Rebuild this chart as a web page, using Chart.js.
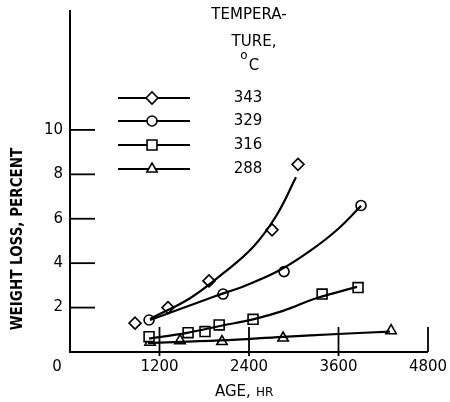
<!DOCTYPE html>
<html>
<head>
<meta charset="utf-8">
<script src="https://cdn.jsdelivr.net/npm/chart.js@4.4.1/dist/chart.umd.min.js"></script>
<style>
  html, body { margin: 0; padding: 0; background: #fff; }
  #wrap { width: 450px; height: 402px; position: relative; }
</style>
</head>
<body>
<div id="wrap"><canvas id="chart"></canvas></div>
<script>
// temperatures (deg C) in legend order
var temps = ['343', '329', '316', '288'];
var markerStyles = ['rectRot', 'circle', 'rect', 'triangle'];
var markerSizes = [6, 5, 7, 6];

var age343 = [872, 1314, 1864, 2709, 3057];
var loss343 = [1.3, 2.0, 3.2, 5.5, 8.45];
var age329 = [1060, 2052, 2870, 3902];
var loss329 = [1.44, 2.61, 3.62, 6.6];
var age316 = [1060, 1583, 1810, 2000, 2454, 3380, 3862];
var loss316 = [0.69, 0.87, 0.92, 1.22, 1.47, 2.61, 2.9];
var age288 = [1073, 1475, 2038, 2857, 4305];
var loss288 = [0.44, 0.51, 0.47, 0.63, 0.96];

// faired curves
var curveAge343 = [1073, 1609, 2056, 2458, 2772, 3030];
var curveLoss343 = [1.49, 2.42, 3.55, 4.74, 6.17, 7.87];
var curveAge329 = [1073, 1917, 2373, 2816, 3218, 3594, 3902];
var curveLoss329 = [1.44, 2.48, 3.02, 3.69, 4.55, 5.54, 6.58];
var curveAge316 = [1060, 1569, 2012, 2454, 2856, 3312, 3849];
var curveLoss316 = [0.6, 0.86, 1.17, 1.47, 1.85, 2.43, 2.93];
var curveAge288 = [1046, 2012, 2856, 3594, 4291];
var curveLoss288 = [0.4, 0.52, 0.68, 0.81, 0.92];

// axis ticks
var xTicks = [0, 1200, 2400, 3600, 4800];
var yTicks = [2, 4, 6, 8, 10];

var FONT = "'DejaVu Sans', sans-serif";

function pts(xs, ys) {
    return xs.map(function (x, i) { return { x: x, y: ys[i] }; });
}

function curve(xs, ys) {
    return {
        data: pts(xs, ys),
        showLine: true,
        borderColor: '#000',
        borderWidth: 2.2,
        pointRadius: 0,
        tension: 0.4,
        fill: false
    };
}

function markers(xs, ys, i) {
    return {
        data: pts(xs, ys),
        showLine: false,
        pointStyle: markerStyles[i],
        pointRadius: markerSizes[i],
        pointBackgroundColor: '#fff',
        pointBorderColor: '#000',
        pointBorderWidth: 1.6
    };
}

// axes, ticks, labels and the legend block
var paperAxes = {
    id: 'paperAxes',
    afterDatasetsDraw: function (chart) {
        var ctx = chart.ctx;
        var xs = chart.scales.x, ys = chart.scales.y;
        var x0 = xs.getPixelForValue(0), y0 = ys.getPixelForValue(0);
        var xEnd = xs.getPixelForValue(4800);
        ctx.save();
        ctx.strokeStyle = '#000';
        ctx.fillStyle = '#000';
        ctx.lineWidth = 2;
        // axis lines
        ctx.beginPath();
        ctx.moveTo(x0, chart.chartArea.top);
        ctx.lineTo(x0, y0);
        ctx.lineTo(xEnd, y0);
        ctx.stroke();
        // y ticks (inside)
        ctx.lineWidth = 1.8;
        yTicks.forEach(function (v) {
            var p = ys.getPixelForValue(v);
            ctx.beginPath();
            ctx.moveTo(x0, p);
            ctx.lineTo(x0 + 25, p);
            ctx.stroke();
        });
        // x ticks (inside)
        xTicks.forEach(function (v) {
            if (v === 0) return;
            var p = xs.getPixelForValue(v);
            ctx.beginPath();
            ctx.moveTo(p, y0 - 25);
            ctx.lineTo(p, v === 4800 ? y0 : y0 + 4);
            ctx.stroke();
        });
        // tick labels
        ctx.font = '15px ' + FONT;
        ctx.textBaseline = 'middle';
        ctx.textAlign = 'right';
        yTicks.forEach(function (v) {
            ctx.fillText(String(v), x0 - 7, ys.getPixelForValue(v));
        });
        ctx.textAlign = 'center';
        xTicks.forEach(function (v) {
            var p = xs.getPixelForValue(v);
            ctx.fillText(String(v), v === 0 ? p - 13 : p, y0 + 15);
        });
        // x title
        ctx.textAlign = 'left';
        ctx.font = '15px ' + FONT;
        ctx.fillText('AGE,', 215, 392);
        ctx.font = '12px ' + FONT;
        ctx.fillText('HR', 256, 393);
        // y title
        ctx.save();
        ctx.translate(18, 239);
        ctx.rotate(-Math.PI / 2);
        ctx.textAlign = 'center';
        ctx.font = "bold 15px 'DejaVu Sans Condensed', sans-serif";
        ctx.fillText('WEIGHT LOSS, PERCENT', 0, 0);
        ctx.restore();
        // legend header
        ctx.font = '15px ' + FONT;
        ctx.textAlign = 'center';
        ctx.fillText('TEMPERA-', 249, 15);
        ctx.fillText('TURE,', 254, 42);
        ctx.font = '12px ' + FONT;
        ctx.fillText('o', 244, 56);
        ctx.font = '15px ' + FONT;
        ctx.fillText('C', 254, 66);
        // legend rows
        var rowY = [98, 121, 145, 169];
        temps.forEach(function (t, i) {
            ctx.lineWidth = 2;
            ctx.beginPath();
            ctx.moveTo(118, rowY[i]);
            ctx.lineTo(190, rowY[i]);
            ctx.stroke();
            ctx.fillStyle = '#fff';
            ctx.lineWidth = 1.6;
            Chart.helpers.drawPoint(ctx, {
                pointStyle: markerStyles[i],
                radius: markerSizes[i],
                rotation: 0,
                borderWidth: 1.6
            }, 152, rowY[i]);
            ctx.fillStyle = '#000';
            ctx.font = '15px ' + FONT;
            ctx.fillText(t, 248, rowY[i]);
        });
        ctx.restore();
    }
};

var ctx = document.getElementById('chart').getContext('2d');
var chart = new Chart(ctx, {
    type: 'scatter',
    data: {
        datasets: [
            curve(curveAge343, curveLoss343),
            curve(curveAge329, curveLoss329),
            curve(curveAge316, curveLoss316),
            curve(curveAge288, curveLoss288),
            markers(age343, loss343, 0),
            markers(age329, loss329, 1),
            markers(age316, loss316, 2),
            markers(age288, loss288, 3)
        ]
    },
    options: {
        responsive: true,
        maintainAspectRatio: false,
        animation: false,
        layout: { padding: { left: 70, right: 22, top: 10, bottom: 50 } },
        plugins: { legend: { display: false }, tooltip: { enabled: false } },
        scales: {
            x: { type: 'linear', display: false, min: 0, max: 4800 },
            y: { type: 'linear', display: false, min: 0, max: 15.4 }
        }
    },
    plugins: [paperAxes]
});
</script>
</body>
</html>
